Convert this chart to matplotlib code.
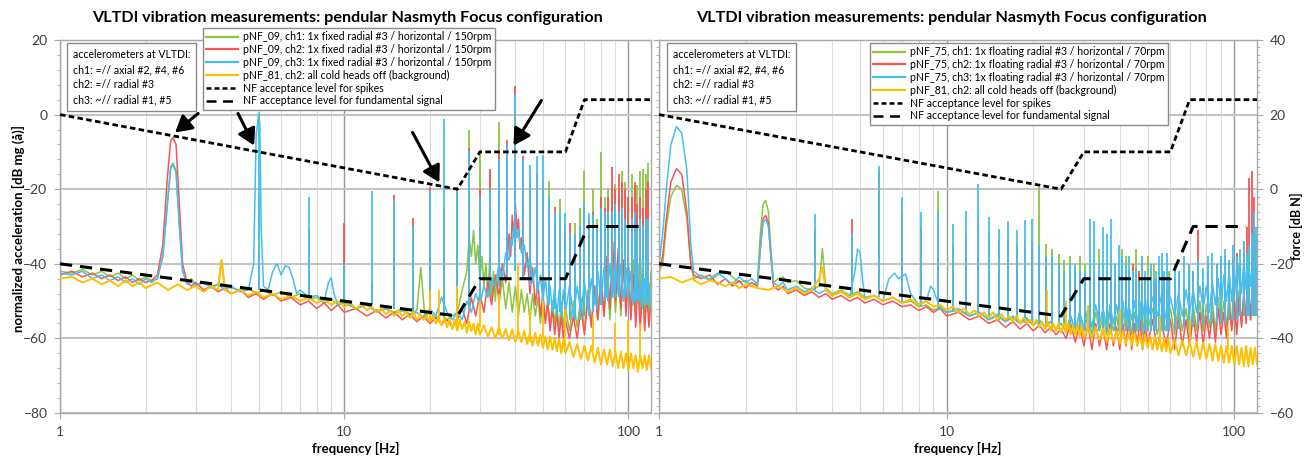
import numpy as np
import matplotlib
matplotlib.use('Agg')
import matplotlib.pyplot as plt
from matplotlib.lines import Line2D
from matplotlib.ticker import FixedLocator, LogLocator, MultipleLocator, NullFormatter

plt.rcParams['font.family'] = ['Lato', 'DejaVu Sans']

GREEN = '#8CC63F'
RED = '#F75454'
BLUE = '#45C0EE'
YELLOW = '#FFC000'

TITLE = 'VLTDI vibration measurements: pendular Nasmyth Focus configuration'
NOTE = 'accelerometers at VLTDI:\nch1: =// axial #2, #4, #6\nch2: =// radial #3\nch3: ~// radial #1, #5'
LEFT_LABELS = ['pNF_09, ch1: 1x fixed radial #3 / horizontal / 150rpm',
               'pNF_09, ch2: 1x fixed radial #3 / horizontal / 150rpm',
               'pNF_09, ch3: 1x fixed radial #3 / horizontal / 150rpm',
               'pNF_81, ch2: all cold heads off (background)',
               'NF acceptance level for spikes',
               'NF acceptance level for fundamental signal']
RIGHT_LABELS = ['pNF_75, ch1: 1x floating radial #3 / horizontal / 70rpm',
                'pNF_75, ch2: 1x floating radial #3 / horizontal / 70rpm',
                'pNF_75, ch3: 1x floating radial #3 / horizontal / 70rpm',
                'pNF_81, ch2: all cold heads off (background)',
                'NF acceptance level for spikes',
                'NF acceptance level for fundamental signal']

# acceptance levels (left panel in dB mg, right panel in dB N)
L_SPIKE_F = [1, 25, 30, 60, 70, 120]
L_SPIKE_DB = [0, -20, -10, -10, 4, 4]
L_FUND_F = [1, 25, 30, 60, 72, 113]
L_FUND_DB = [-40, -54, -44, -44, -30, -30]
R_SPIKE_F = [1, 25, 30, 60, 70, 120]
R_SPIKE_DB = [20, 0, 10, 10, 24, 24]
R_FUND_F = [1, 25, 30, 60, 72, 110]
R_FUND_DB = [-20, -34, -24, -24, -10, -10]

# ---------- left panel: 150 rpm ----------
L_G_FLOOR = [(1.0, -42), (1.1, -42.5), (1.2, -41.5), (1.3, -43), (1.4, -42), (1.5, -43.5), (1.6, -42.5),
             (1.7, -44), (1.8, -43), (1.9, -44.5), (2.0, -43.5), (2.1, -44.5), (2.2, -44), (2.3, -38),
             (2.38, -25), (2.45, -14), (2.5, -13), (2.56, -15), (2.62, -28), (2.7, -42), (2.8, -45),
             (2.9, -44), (3.0, -45.5), (3.2, -45), (3.4, -46), (3.6, -45.5), (3.7, -39), (3.8, -46),
             (4.0, -46.5), (4.3, -47), (4.6, -46.5), (4.9, -48), (5.2, -47), (5.6, -48.5), (6.0, -47.5),
             (6.5, -49), (7.0, -48), (7.5, -49.5), (8.0, -49), (8.5, -50.5), (9.0, -49.5), (9.5, -51),
             (10, -50.5), (11, -52), (12, -51), (13, -52.5), (14, -52), (15, -53), (16, -52), (17, -53.5),
             (18, -52.5), (18.6, -41), (19.2, -54), (20, -53), (21, -54.5), (22, -53.5), (23, -55), (24, -54),
             (25, -53), (26, -47), (27, -42), (27.5, -33), (28, -38), (28.5, -31), (29, -40), (29.5, -35),
             (30, -44), (30.5, -38), (31, -46), (31.5, -40), (32, -48), (32.5, -39), (33, -49), (33.5, -42),
             (34, -50), (34.5, -43), (35, -51), (36, -44), (37, -52), (38, -45), (39, -53), (40, -46), (41, -54),
             (42, -47), (43, -53), (44, -48), (45, -55), (46, -48), (47, -54), (48, -49), (49, -56), (50, -49),
             (51, -55), (52, -50), (53, -57), (54, -50), (55, -56), (56, -51), (57, -58), (58, -50), (59, -57),
             (60, -52), (62, -58), (64, -50), (66, -57), (68, -49), (70, -58), (72, -47), (74, -56), (76, -46),
             (78, -55), (80, -44), (82, -54), (84, -43), (86, -55), (88, -42), (90, -53), (92, -41), (94, -54),
             (96, -40), (98, -52), (100, -40), (102, -54), (104, -39), (106, -52), (108, -40), (110, -54),
             (112, -39), (114, -53), (116, -41), (118, -55), (120, -42)]
L_R_FLOOR = [(1.0, -43), (1.1, -42), (1.2, -43.5), (1.3, -42.5), (1.4, -44), (1.5, -43), (1.6, -44.5),
             (1.7, -43.5), (1.8, -45), (1.9, -44), (2.0, -45), (2.1, -44.5), (2.2, -43), (2.3, -35),
             (2.38, -18), (2.45, -7), (2.5, -6.2), (2.56, -8), (2.62, -22), (2.7, -40), (2.8, -45),
             (2.9, -46), (3.0, -45), (3.2, -47), (3.4, -46), (3.6, -47.5), (3.8, -46.5), (4.0, -48),
             (4.3, -47), (4.6, -49), (4.9, -48), (5.2, -49.5), (5.6, -48), (6.0, -50), (6.5, -49), (7.0, -51),
             (7.5, -50), (8.0, -52), (8.5, -50.5), (9.0, -52.5), (9.5, -51), (10, -53), (11, -52), (12, -54),
             (13, -52.5), (14, -54.5), (15, -53), (16, -55), (17, -53.5), (18, -55.5), (19, -54), (20, -56),
             (21, -54.5), (22, -56), (23, -55), (24, -57), (25, -55), (26, -52), (27, -56), (28, -49), (29, -54),
             (30, -48), (31, -53), (32, -45), (33, -51), (34, -43), (35, -49), (36, -40), (37, -45), (38, -32),
             (38.5, -38), (39, -27), (39.5, -33), (40, -24), (40.5, -31), (41, -28), (41.5, -36), (42, -33),
             (43, -43), (44, -37), (45, -48), (46, -41), (47, -51), (48, -45), (49, -54), (50, -48), (51, -56),
             (52, -50), (53, -58), (54, -52), (55, -59), (56, -53), (57, -60), (58, -54), (59, -60), (60, -55),
             (62, -60), (64, -54), (66, -60), (68, -52), (70, -59), (72, -49), (74, -57), (76, -46), (78, -55),
             (80, -42), (82, -54), (84, -38), (86, -52), (88, -34), (90, -50), (92, -36), (94, -52), (96, -39),
             (98, -54), (100, -41), (102, -55), (104, -43), (106, -57), (108, -45), (110, -58), (112, -46),
             (114, -58), (116, -48), (118, -57), (120, -50)]
L_B_FLOOR = [(1.0, -42.5), (1.1, -43), (1.2, -42), (1.3, -44), (1.4, -43), (1.5, -44.5), (1.6, -43.5),
             (1.7, -45), (1.8, -44), (1.9, -45.5), (2.0, -44), (2.1, -45), (2.2, -44), (2.3, -38),
             (2.38, -25), (2.45, -14.5), (2.5, -13.5), (2.56, -15.5), (2.62, -28), (2.7, -42), (2.8, -45.5),
             (2.9, -44.5), (3.0, -46), (3.2, -45), (3.4, -46.5), (3.6, -45.5), (3.8, -47), (4.0, -46),
             (4.3, -47.5), (4.6, -47), (4.8, -40), (4.9, -5), (4.95, -3), (5.0, 0.5), (5.05, -3), (5.1, -30),
             (5.2, -46), (5.4, -47), (5.6, -42), (5.8, -40), (6.0, -43), (6.2, -40.5), (6.4, -41), (6.6, -44),
             (6.8, -48), (7.0, -47), (7.5, -49), (8.0, -48.5), (8.5, -50), (8.8, -45), (9.0, -43.7), (9.2, -48),
             (9.5, -51), (10, -50), (11, -52), (12, -51), (13, -53), (14, -52), (15, -53.5), (16, -52.5),
             (17, -54), (18, -53), (19, -54.5), (20, -52), (21, -54), (22, -49), (23, -53), (24, -55),
             (25, -53), (26, -55), (27, -50), (28, -53), (29, -48), (30, -51), (31, -46), (32, -49), (33, -44),
             (34, -46), (35, -40), (36, -44), (37, -37), (38, -39), (38.5, -33), (39, -35), (39.5, -30),
             (40, -29), (40.5, -33), (41, -31), (42, -37), (43, -35), (44, -41), (45, -38), (46, -45), (47, -41),
             (48, -47), (49, -43), (50, -50), (51, -44), (52, -51), (53, -46), (54, -53), (55, -46), (56, -54),
             (57, -47), (58, -54), (59, -47), (60, -53), (62, -46), (64, -54), (66, -46), (68, -53), (70, -45),
             (72, -52), (74, -44), (76, -51), (78, -42), (80, -50), (82, -41), (84, -49), (86, -40), (88, -49),
             (90, -39), (92, -48), (94, -40), (96, -50), (98, -41), (100, -49), (102, -42), (104, -51),
             (106, -42), (108, -50), (110, -43), (112, -52), (114, -44), (116, -51), (118, -45), (120, -52)]
L_Y_FLOOR = [(1.0, -44), (1.1, -43.5), (1.2, -45), (1.3, -44), (1.4, -45.5), (1.5, -44.5), (1.6, -46),
             (1.7, -44.5), (1.8, -46), (1.9, -45), (2.0, -46.5), (2.2, -45), (2.4, -47), (2.6, -45.5),
             (2.8, -47), (3.0, -46), (3.2, -47.5), (3.4, -46), (3.6, -47), (3.7, -39), (3.8, -47), (4.0, -48),
             (4.3, -47), (4.6, -48.5), (4.9, -47.5), (5.2, -49), (5.6, -48), (6.0, -49.5), (6.5, -48.5),
             (7.0, -50), (7.5, -49), (8.0, -50.5), (8.5, -49.5), (9.0, -51), (9.5, -50), (10, -51.5),
             (10.5, -50.5), (11, -52), (11.5, -51), (12, -52.5), (12.5, -51.5), (13, -53), (13.5, -52),
             (14, -53.5), (14.5, -52.5), (15, -54), (15.5, -52.5), (16, -54), (16.5, -53), (17, -54.5),
             (17.5, -53), (18, -55), (18.5, -53.5), (19, -55), (19.5, -54), (20, -55.5), (20.5, -54), (21, -56),
             (21.5, -54.5), (22, -56.5), (22.5, -54.5), (23, -57), (23.5, -55), (24, -57.5), (24.5, -55),
             (25, -58), (25.5, -55), (26, -57.5), (26.5, -55.5), (27, -58.5), (27.5, -55.5), (28, -58),
             (28.5, -56), (29, -59), (29.5, -56), (30, -59), (31, -56.5), (32, -59.5), (33, -57), (34, -60),
             (35, -57), (36, -60), (37, -57.5), (38, -60.5), (39, -57.5), (40, -61), (41, -58), (42, -61),
             (43, -58), (44, -61.5), (45, -58.5), (46, -62), (47, -58.5), (48, -62), (49, -59), (50, -62.5),
             (51, -59.5), (52, -63), (53, -59.5), (54, -63), (55, -60), (56, -63.5), (57, -60), (58, -64),
             (59, -60.5), (60, -64), (62, -61), (64, -65), (66, -61.5), (68, -65.5), (70, -62), (72, -66),
             (74, -62), (76, -66.5), (78, -62.5), (80, -67), (82, -63), (84, -67), (86, -63), (88, -67.5),
             (90, -63.5), (92, -68), (94, -63.5), (96, -68), (98, -64), (100, -68.5), (102, -64), (104, -68),
             (106, -64.5), (108, -69), (110, -64.5), (112, -68), (114, -64.5), (116, -68.5), (118, -64.5),
             (120, -68)]

# harmonics of 2.5 Hz: frequency, floor level under the spike, spike tops per channel
L_HF = [5, 7.5, 10, 12.5, 15, 17.5, 20, 22.5, 25, 27.5,
        30, 32.5, 35, 37.5, 40, 42.5, 45, 47.5, 50, 52.5,
        55, 57.5, 60, 62.5, 65, 67.5, 70, 72.5, 75, 77.5,
        80, 82.5, 85, 87.5, 90, 92.5, 95, 97.5, 100, 102.5,
        105, 107.5, 110, 112.5, 115, 117.5]
L_HBASE = [-47, -49, -50, -51, -52, -53, -53, -54, -54, -52,
           -50, -48, -46, -44, -42, -44, -46, -48, -50, -51,
           -52, -53, -54, -55, -55, -55, -54, -54, -53, -52,
           -51, -50, -50, -49, -49, -49, -49, -49, -49, -50,
           -50, -50, -50, -51, -51, -51]
L_G_PEAK = [-22, -40, -40, -46, -44, -46, -44, -35, -30, -4,
            -10, -15, -2, -15, -5, -18, -20, -20, -20, -17.7,
            -28, -22.6, -30, -32, -29, -25, -15, -28, -20, -28,
            -10, -22, -20, -20, -18.5, -22, -15, -18, -22, -16,
            -20, -19, -15, -14.5, -16, -13]
L_R_PEAK = [-35.5, -30.5, -29, -45, -21.5, -27.6, -19.3, -25, -19.5, -9,
            -20, -14.7, -10, -6.8, 7.8, -11, -18, -16, -18, -25,
            -24.8, -30, -30, -29, -33, -30, -25, -28, -26, -30,
            -22, -25, -22, -14, -20, -16, -18, -20, -22, -22,
            -18, -24, -22, -25, -20, -18]
L_B_PEAK = [0.5, -22, -40, -20.5, -23, -30, -20.5, -1.3, -20.4, -9.7,
            -22, -20, -12, -8, 5.6, -12, -13.6, -11, -10.8, -22,
            -26, -26, -26.5, -32, -32, -30, -24, -26.5, -27, -30,
            -25, -26, -26, -26, -24, -26, -25, -28, -30, -28,
            -26, -30, -28, -30, -28, -28]
L_Y_SPK_F = [20, 21.5, 25, 30, 35, 40.8, 45, 50, 60, 75, 90, 100, 110]
L_Y_SPK_BASE = [-55, -56, -57, -57, -59, -59, -61, -60, -62, -63, -64, -65, -65]
L_Y_SPK_TOP = [-47, -47, -46, -50, -48, -40, -52, -50, -52, -54, -56, -55, -56]

# arrows on the left panel: (tail, head)
L_ARROWS = [((3.06, 0.3), (2.54, -4.8)), ((4.23, 0.3), (4.82, -8.3)),
            ((17.4, -4.8), (21.6, -18.2)), ((49.4, 3.8), (39.4, -8.3))]

# ---------- right panel: 70 rpm ----------
R_G_FLOOR = [(1.0, -22), (1.03, -20), (1.06, -10), (1.1, -2), (1.15, 1), (1.2, 0), (1.25, -8), (1.29, -20),
             (1.32, -24), (1.4, -23), (1.5, -24.5), (1.6, -23), (1.7, -22), (1.8, -23.5), (1.9, -25), (2.0, -24.5),
             (2.1, -26), (2.2, -25), (2.25, -12), (2.3, -4), (2.35, -3), (2.4, -6), (2.45, -16), (2.5, -25),
             (2.6, -24), (2.7, -23.5), (2.8, -25), (3.0, -24.5), (3.2, -26.5), (3.4, -27), (3.6, -26),
             (3.7, -15.9), (3.8, -26.5), (4.0, -28), (4.3, -27), (4.6, -28.5), (4.9, -27.5), (5.2, -29),
             (5.6, -28.5), (6.0, -30), (6.5, -29), (7.0, -30.5), (7.5, -30), (8.0, -31.5), (8.5, -31),
             (9.0, -32.5), (9.5, -31.5), (10, -33), (11, -32.5), (12, -34), (13, -33), (14, -35), (15, -34),
             (16, -35.5), (17, -34.5), (18, -36), (19, -35), (20, -36.5), (21, -35), (22, -37), (23, -35.5),
             (24, -37.5), (25, -36), (26, -38), (27, -34), (28, -38.5), (29, -33), (30, -38), (31, -34),
             (32, -39), (33, -33), (34, -38), (35, -34), (36, -39), (37, -33), (38, -38), (39, -34), (40, -39),
             (41, -33), (42, -38), (43, -32), (44, -39), (45, -33), (46, -38), (47, -32), (48, -39), (49, -33),
             (50, -38), (52, -32), (54, -39), (56, -33), (58, -38), (60, -32), (62, -39), (64, -31), (66, -38),
             (68, -32), (70, -39), (72, -31), (74, -38), (76, -30), (78, -38), (80, -31), (82, -37), (84, -30),
             (86, -38), (88, -29), (90, -36), (92, -30), (94, -37), (96, -28), (98, -36), (100, -29), (102, -35),
             (104, -27), (106, -36), (108, -28), (110, -34), (112, -26), (114, -35), (116, -27), (118, -33),
             (120, -28)]
R_R_FLOOR = [(1.0, -21.5), (1.03, -18), (1.06, -8), (1.1, 2), (1.15, 5.5), (1.2, 4), (1.25, -6), (1.29, -20),
             (1.32, -23), (1.4, -24), (1.5, -23), (1.6, -25.5), (1.7, -24), (1.8, -26), (1.9, -24.5),
             (2.0, -26.5), (2.1, -25), (2.2, -26), (2.25, -16), (2.3, -8), (2.35, -7), (2.4, -9), (2.45, -18),
             (2.5, -26), (2.6, -27), (2.7, -26), (2.8, -28), (3.0, -27), (3.2, -28.5), (3.4, -27.5), (3.6, -29),
             (3.8, -28), (4.0, -29.5), (4.3, -28.5), (4.6, -30), (4.9, -29), (5.2, -30.5), (5.6, -29.5),
             (6.0, -31), (6.5, -30), (7.0, -31.5), (7.5, -31), (8.0, -32.5), (8.5, -31.5), (9.0, -33),
             (9.5, -32), (10, -34), (11, -33), (12, -35), (13, -34), (14, -36), (15, -35), (16, -37),
             (17, -35.5), (18, -37.5), (19, -36), (20, -38), (21, -36.5), (22, -38.5), (23, -37), (24, -39),
             (25, -37.5), (26, -40), (27, -36), (28, -41), (29, -36), (30, -42), (31, -36), (32, -43), (33, -36),
             (34, -42), (35, -37), (36, -43), (37, -36), (38, -42), (39, -37), (40, -43), (41, -36), (42, -42),
             (43, -35), (44, -43), (45, -36), (46, -42), (47, -35), (48, -43), (49, -36), (50, -42), (52, -35),
             (54, -43), (56, -36), (58, -42), (60, -35), (62, -43), (64, -34), (66, -42), (68, -35), (70, -42),
             (72, -34), (74, -41), (76, -33), (78, -42), (80, -34), (82, -40), (84, -33), (86, -41), (88, -32),
             (90, -39), (92, -33), (94, -40), (96, -31), (98, -38), (100, -30), (102, -39), (104, -29),
             (106, -37), (108, -28), (110, -36), (112, -24), (114, -35), (116, -26), (118, -33), (120, -27)]
R_B_FLOOR = [(1.0, -20), (1.03, -12), (1.06, 0), (1.1, 12), (1.15, 16.8), (1.2, 15), (1.25, 5), (1.29, -15),
             (1.32, -22), (1.4, -23.5), (1.5, -24), (1.6, -22.5), (1.7, -24), (1.8, -25.5), (1.9, -23.5),
             (2.0, -25), (2.1, -24), (2.2, -25.5), (2.25, -16), (2.3, -9), (2.35, -8), (2.4, -10), (2.45, -18),
             (2.5, -25), (2.6, -26), (2.7, -25), (2.8, -27), (3.0, -26), (3.2, -27.5), (3.4, -26.5), (3.6, -28),
             (3.8, -27), (4.0, -28.5), (4.3, -27.5), (4.6, -29), (4.8, -22), (4.9, -16), (5.0, -17), (5.1, -24),
             (5.2, -29.5), (5.6, -28.5), (6.0, -30), (6.3, -24), (6.6, -22.5), (6.8, -24), (7.2, -22.7),
             (7.5, -28), (8.0, -31), (8.5, -30), (8.8, -26), (9.0, -27), (9.5, -32), (10, -33), (11, -32),
             (12, -34), (13, -33), (14, -35), (15, -33.5), (16, -35.5), (17, -34), (18, -36), (19, -34.5),
             (20, -36.5), (21, -35), (22, -37), (23, -35.5), (24, -37.5), (25, -36), (26, -38), (27, -34),
             (28, -38), (29, -33), (30, -37), (31, -32), (32, -37), (33, -31), (34, -36), (35, -32), (36, -37),
             (37, -31), (38, -36), (39, -31), (40, -36), (41, -30), (42, -36), (43, -31), (44, -35), (45, -30),
             (46, -36), (47, -30), (48, -35), (49, -29), (50, -35), (52, -29), (54, -34), (56, -28), (58, -35),
             (60, -29), (62, -34), (64, -28), (66, -34), (68, -27), (70, -33), (72, -27), (74, -33), (76, -26),
             (78, -32), (80, -26), (82, -33), (84, -25), (86, -31), (88, -24), (90, -32), (92, -23), (94, -30),
             (96, -22), (98, -30), (100, -21), (102, -29), (104, -20), (106, -28), (108, -19), (110, -27),
             (112, -18), (114, -26), (116, -19), (118, -25), (120, -20)]
R_Y_FLOOR = [(1.0, -24), (1.1, -23.5), (1.2, -25), (1.3, -24), (1.4, -25.5), (1.5, -24.5), (1.6, -25),
             (1.7, -26), (1.8, -25), (1.9, -26.5), (2.0, -25.5), (2.2, -26.5), (2.4, -27), (2.6, -26),
             (2.8, -27.5), (3.0, -26.5), (3.2, -28), (3.4, -27), (3.6, -24), (3.7, -21), (3.8, -27), (4.0, -28.5),
             (4.3, -27.5), (4.6, -29), (4.9, -28), (5.2, -29.5), (5.6, -28.5), (6.0, -30), (6.5, -29),
             (7.0, -30.5), (7.5, -29.5), (8.0, -31), (8.5, -30), (9.0, -31.5), (9.5, -31), (10, -32.5),
             (10.5, -31.5), (11, -33), (11.5, -32), (12, -33.5), (12.5, -32.5), (13, -34), (13.5, -33),
             (14, -34.5), (14.5, -33), (15, -35), (15.5, -33.5), (16, -35), (16.5, -34), (17, -35.5), (17.5, -34),
             (18, -36), (18.5, -34.5), (19, -36), (19.5, -35), (20, -36.5), (20.5, -35), (21, -37), (21.5, -35.5),
             (22, -37.5), (22.5, -35.5), (23, -38), (23.5, -36), (24, -38), (24.5, -36), (25, -38.5), (25.5, -36),
             (26, -38.5), (26.5, -36), (27, -39), (27.5, -36.5), (28, -39), (28.5, -36.5), (29, -39.5),
             (29.5, -36.5), (30, -40), (31, -37), (32, -40), (33, -37), (34, -40.5), (35, -37.5), (36, -41),
             (37, -37.5), (38, -41), (39, -38), (40, -41.5), (41, -38), (42, -41.5), (43, -38.5), (44, -42),
             (45, -38.5), (46, -42), (47, -39), (48, -42.5), (49, -39), (50, -42.5), (51, -39.5), (52, -43),
             (53, -39.5), (54, -43), (55, -40), (56, -43.5), (57, -40), (58, -43.5), (59, -40), (60, -44),
             (62, -40.5), (64, -44.5), (66, -40.5), (68, -44.5), (70, -41), (72, -45), (74, -41), (76, -45.5),
             (78, -41), (80, -45.5), (82, -41.5), (84, -46), (86, -41.5), (88, -46), (90, -42), (92, -46.5),
             (94, -42), (96, -46.5), (98, -42), (100, -47), (102, -42), (104, -47), (106, -42.5), (108, -47.5),
             (110, -42), (112, -47.5), (114, -42.5), (116, -47), (118, -42.5), (120, -47)]

# harmonics of 70 rpm (7/6 Hz) and the spikes above 60 Hz
R_HF = [3.5, 4.67, 5.83, 7.0, 8.17, 9.33, 10.5, 11.67, 12.83, 14.0,
        15.17, 16.33, 17.5, 18.67, 19.83, 21.0, 22.17, 23.33, 24.5, 25.67,
        26.83, 28.0, 29.17, 30.33, 31.5, 32.67, 33.83, 35.0, 36.17, 37.33,
        38.5, 39.67, 40.83, 42.0, 43.17, 44.33, 45.5, 46.67, 47.83, 49.0,
        50.17, 51.33, 52.5, 53.67, 54.83, 56.0, 57.17, 58.33, 59.5, 62,
        64.5, 67, 69.5, 72, 75, 78, 81, 84, 87, 90,
        93, 96, 99, 102, 105, 108, 111, 113, 115, 117,
        119]
R_HBASE = [-27, -28, -29, -30.5, -31.5, -32.5, -33, -33.5, -34, -34.5,
           -35, -35, -35.5, -36, -36, -36.5, -37, -37, -37.5, -37.5,
           -38, -38, -38, -38, -38, -38, -38, -38, -38, -38,
           -38, -38, -38, -38, -38, -38, -38, -38, -38, -38,
           -38, -38, -38, -38, -38, -38, -38, -38, -38, -37.5,
           -37.5, -37, -37, -37, -36.5, -36.5, -36, -36, -36, -35.5,
           -35.5, -35, -35, -35, -34, -34, -34, -34, -34, -34,
           -34]
R_G_PEAK = [-14, -14, 1.4, -8, -12, -0.6, -15, -14, -10, -14,
            -16, -14, -16, -16, -15, 0.7, -14.6, -16, -17.5, -19,
            -18, -21, -18, -20, -20, -22, -16, -20, -22, -18,
            -20, -20, -16, -18, -22, -20, -16, -22, -20, -24,
            -18, -22, -20, -24, -22, -26, -23, -25, -22, -24,
            -22, -26, -20, -24, -22, -26, -20, -24, -21, -18,
            -22, -19, -23, -17, -20, -22, -18, -21, -16, -19,
            -20]
R_R_PEAK = [-10.6, -8, 5, -6, -10, -10, -15, -12, -8, -12,
            -14, -13, -15, -14, -14, -18, -20, -22, -22, -24,
            -24, -25, -24, -25, -24, -25, -26, -24, -26, -25,
            -24, -27, -26, -22, -26, -20, -25, -22, -27, -25,
            -26, -26, -24, -27, -25, -28, -24, -27, -26, -26,
            -25, -28, -24, -22, -11, -25, -22, -24, -20, -22,
            -18, -23, -19, -17, -20, -15, -10, 3, 5, -2,
            -12]
R_B_PEAK = [-6.6, -12, 6.3, -2, -6, -6, -9.3, -5.8, 1.4, -7.5,
            -10.6, -8.6, -11, -8.2, -8, -15, -18, -18, -20, -22,
            -20, -20, -22, -22, -8, -8.5, -20, -10, -12, -8,
            -20, -15, -18, -20, -18, -22, -21, -25, -18, -22,
            -24, -20, -24, -22, -18, -17, -22, -17, -24, -20,
            -22, -18, -20, -22, -19, -21, -18, -17, -20, -18,
            -16, -19, -15, -18, -16, -14, -17, -15, -12, -6,
            -10]
R_Y_SPK_F = [22.3, 26, 31, 40, 55, 70, 95]
R_Y_SPK_BASE = [-37, -37, -38, -39, -41, -42, -43]
R_Y_SPK_TOP = [-27, -30, -31, -32, -34, -35, -37]


def draw_panel(ax, floors, hf, hbase, peaks, yspk, spike_lvl, fund_lvl):
    colors = [GREEN, RED, BLUE]
    for floor, peak, c in zip(floors[:3], peaks, colors):
        f, v = np.array(floor).T
        ax.plot(f, v, color=c, lw=1.1, zorder=2)
        top = np.array(peak)
        base = np.array(hbase)
        m = top > base
        ax.vlines(np.array(hf)[m], base[m], top[m], colors=c, lw=1.3, zorder=2)
    f, v = np.array(floors[3]).T
    ax.plot(f, v, color=YELLOW, lw=1.4, zorder=3)
    ax.vlines(yspk[0], yspk[1], yspk[2], colors=YELLOW, lw=1.3, zorder=3)
    ax.plot(spike_lvl[0], spike_lvl[1], color='k', lw=2.0, dashes=(2, 1.2), zorder=5)
    ax.plot(fund_lvl[0], fund_lvl[1], color='k', lw=2.2, dashes=(4, 2.6), zorder=5)


def style_axes(ax, ylim, minor):
    ax.set_xscale('log')
    ax.set_xlim(1, 120)
    ax.set_ylim(*ylim)
    ax.set_yticks(np.arange(ylim[0], ylim[1] + 1, 20))
    ax.yaxis.set_minor_locator(MultipleLocator(minor))
    ax.xaxis.set_major_locator(FixedLocator([1, 10, 100]))
    ax.set_xticklabels(['1', '10', '100'])
    ax.xaxis.set_minor_locator(LogLocator(subs=np.arange(2, 10)))
    ax.xaxis.set_minor_formatter(NullFormatter())
    ax.xaxis.grid(True, which='major', color='#9a9a9a', lw=1.0, zorder=0)
    ax.xaxis.grid(True, which='minor', color='#dcdcdc', lw=0.8, zorder=0)
    ax.yaxis.grid(True, which='major', color='#c4c4c4', lw=1.5, zorder=0)
    ax.set_axisbelow(True)
    for s in ax.spines.values():
        s.set_color('#a8a8a8')
        s.set_linewidth(1.0)
    ax.tick_params(axis='both', which='major', length=4, color='#a8a8a8', labelsize=10,
                   labelcolor='#404040', pad=5)
    ax.tick_params(axis='y', which='minor', length=2.5, color='#a8a8a8')
    ax.tick_params(axis='x', which='minor', length=0)
    ax.set_xlabel('frequency [Hz]', fontsize=9.5, fontweight='bold', labelpad=3)


fig = plt.figure(figsize=(13.05, 4.62), dpi=100)
ax1 = fig.add_axes([60 / 1305, 49 / 462, 591 / 1305, 373 / 462])
ax2 = fig.add_axes([659 / 1305, 49 / 462, 598 / 1305, 373 / 462])

draw_panel(ax1, [L_G_FLOOR, L_R_FLOOR, L_B_FLOOR, L_Y_FLOOR],
           L_HF, L_HBASE, [L_G_PEAK, L_R_PEAK, L_B_PEAK], (L_Y_SPK_F, L_Y_SPK_BASE, L_Y_SPK_TOP),
           (L_SPIKE_F, L_SPIKE_DB), (L_FUND_F, L_FUND_DB))
draw_panel(ax2, [R_G_FLOOR, R_R_FLOOR, R_B_FLOOR, R_Y_FLOOR],
           R_HF, R_HBASE, [R_G_PEAK, R_R_PEAK, R_B_PEAK], (R_Y_SPK_F, R_Y_SPK_BASE, R_Y_SPK_TOP),
           (R_SPIKE_F, R_SPIKE_DB), (R_FUND_F, R_FUND_DB))

style_axes(ax1, (-80, 20), 4)
style_axes(ax2, (-60, 40), 2)
ax2.tick_params(axis='y', which='both', left=True, right=True, labelleft=False, labelright=True)

for tail, head in L_ARROWS:
    ax1.annotate('', xy=head, xytext=tail, zorder=6,
                 arrowprops=dict(arrowstyle='-|>,head_length=0.7,head_width=0.4', color='k',
                                 lw=2.2, mutation_scale=14, shrinkA=0, shrinkB=0))

fig.text(347 / 1305, 1 - 18 / 462, TITLE, ha='center', va='center', fontsize=11.6, fontweight='bold')
fig.text(951 / 1305, 1 - 18 / 462, TITLE, ha='center', va='center', fontsize=11.6, fontweight='bold')
fig.text(18 / 1305, 1 - 228 / 462, 'normalized acceleration [dB mg (å)]', rotation=90,
         ha='center', va='center', fontsize=9.5, fontweight='bold')
fig.text(1296 / 1305, 1 - 226 / 462, 'force [dB N]', rotation=90,
         ha='center', va='center', fontsize=9, fontweight='bold')

for x0 in (67, 667):
    fig.text((x0 + 6) / 1305, 1 - 49 / 462, NOTE, ha='left', va='top', fontsize=7.6, linespacing=1.45,
             zorder=7, bbox=dict(boxstyle='square,pad=0.55', fc='white', ec='#8a8a8a', lw=1.0))


def handles():
    return [Line2D([], [], color=GREEN, lw=1.6), Line2D([], [], color=RED, lw=1.6),
            Line2D([], [], color=BLUE, lw=1.6), Line2D([], [], color=YELLOW, lw=1.6),
            Line2D([], [], color='k', lw=1.8, dashes=(2, 1.2)),
            Line2D([], [], color='k', lw=1.8, dashes=(4, 2.6))]


for labels, anchor in ((LEFT_LABELS, (203 / 1305, 1 - 28 / 462)), (RIGHT_LABELS, (870 / 1305, 1 - 43 / 462))):
    leg = fig.legend(handles(), labels, loc='upper left', bbox_to_anchor=anchor, fontsize=7.6,
                     frameon=True, fancybox=False, framealpha=1, edgecolor='#8a8a8a',
                     handlelength=3.0, handletextpad=0.5, labelspacing=0.17, borderpad=0.32,
                     borderaxespad=0)
    leg.get_frame().set_linewidth(1.0)
    leg.set_zorder(8)

fig.savefig('out.png', dpi=100)
